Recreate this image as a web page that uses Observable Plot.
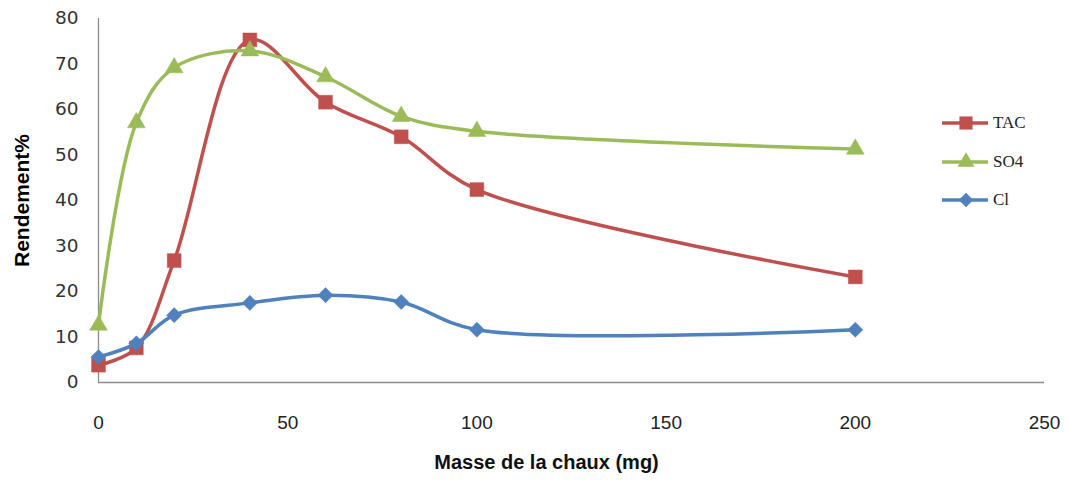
<!DOCTYPE html>
<html><head><meta charset="utf-8">
<script src="https://cdn.jsdelivr.net/npm/d3@7"></script>
<script src="https://cdn.jsdelivr.net/npm/@observablehq/plot@0.6"></script>
<style>
body{margin:0;background:#fff;}
#wrap{position:relative;width:1068px;height:483px;}
#legend{position:absolute;left:940px;top:104px;font-family:"Liberation Serif",serif;font-size:17px;color:#222;}
#legend .item{display:flex;align-items:center;height:38.5px;}
#legend svg{margin-right:3px;}
[aria-label="y-axis label"]{font-family:"Liberation Sans",Arial,sans-serif;font-weight:bold;font-size:21px;fill:#000;}
</style></head><body><div id="wrap"></div>
<script>
const masse = [0, 10, 20, 40, 60, 80, 100, 200];
const tac = [3.8, 7.6, 26.8, 75.3, 61.6, 54.0, 42.4, 23.2];
const so4 = [12.6, 57.1, 69.2, 72.9, 67.2, 58.5, 55.2, 51.3];
const cl = [5.6, 8.6, 14.8, 17.5, 19.2, 17.7, 11.6, 11.6];
const seriesNames = ["TAC", "SO4", "Cl"];
const seriesColors = ["#C0504D", "#9BBB59", "#4F81BD"];
const seriesSymbols = ["square", "triangle", "diamond2"];
const seriesR = [7.8, 6.6, 6.8];
const xTicks = [0, 50, 100, 150, 200, 250];
const yTicks = [0, 10, 20, 30, 40, 50, 60, 70, 80];
const xLabel = "Masse de la chaux (mg)";
const yLabel = "Rendement%";

const values = [tac, so4, cl];
const series = seriesNames.map((name, i) => masse.map((m, j) => ({serie: name, x: m, y: values[i][j]})));

const marks = [
  Plot.ruleY([0], {stroke: "#8c8c8c", strokeWidth: 1.3}),
  Plot.ruleX([0], {stroke: "#8c8c8c", strokeWidth: 1.3}),
  Plot.axisX({ticks: xTicks, tickSize: 0, tickPadding: 33, label: null, fontFamily: "Liberation Sans Narrow, Arial Narrow, sans-serif", fontSize: 19, fill: "#222"}),
  Plot.axisY({ticks: yTicks, tickSize: 0, tickPadding: 20, label: yLabel, labelAnchor: "center", labelArrow: "none", labelOffset: 84, fontFamily: "DejaVu Sans, sans-serif", fontSize: 18.5, fill: "#333"}),
  Plot.text([xLabel], {text: d => d, frameAnchor: "bottom", dy: 86, dx: -25, fontFamily: "Liberation Sans Narrow, Arial Narrow, sans-serif", fontSize: 20, fontWeight: "bold", fill: "#111"})
];
series.forEach((s, i) => {
  marks.push(Plot.line(s, {x: "x", y: "y", stroke: seriesColors[i], strokeWidth: 3.5, curve: "catmull-rom"}));
  marks.push(Plot.dot(s, {x: "x", y: "y", fill: seriesColors[i], stroke: seriesColors[i], strokeWidth: 0.5, symbol: seriesSymbols[i], r: seriesR[i]}));
});

const chart = Plot.plot({
  width: 1068, height: 483,
  marginLeft: 98, marginRight: 24, marginTop: 18, marginBottom: 101,
  x: {domain: [0, 250]},
  y: {domain: [0, 80]},
  style: {background: "#fff"},
  marks
});
const wrap = document.getElementById("wrap");
wrap.appendChild(chart);

// legend
const legend = document.createElement("div");
legend.id = "legend";
seriesNames.forEach((name, i) => {
  const item = document.createElement("div");
  item.className = "item";
  const svg = d3.create("svg").attr("width", 50).attr("height", 20);
  svg.append("line").attr("x1", 2).attr("x2", 48).attr("y1", 10).attr("y2", 10).attr("stroke", seriesColors[i]).attr("stroke-width", 3.5);
  const sym = {square: d3.symbolSquare, triangle: d3.symbolTriangle, diamond2: d3.symbolDiamond2}[seriesSymbols[i]];
  svg.append("path").attr("transform", "translate(26,10)").attr("d", d3.symbol(sym, Math.PI * seriesR[i] * seriesR[i] * 0.9)()).attr("fill", seriesColors[i]);
  item.appendChild(svg.node());
  const t = document.createElement("span");
  t.textContent = name;
  item.appendChild(t);
  legend.appendChild(item);
});
wrap.appendChild(legend);
</script>
</body></html>
